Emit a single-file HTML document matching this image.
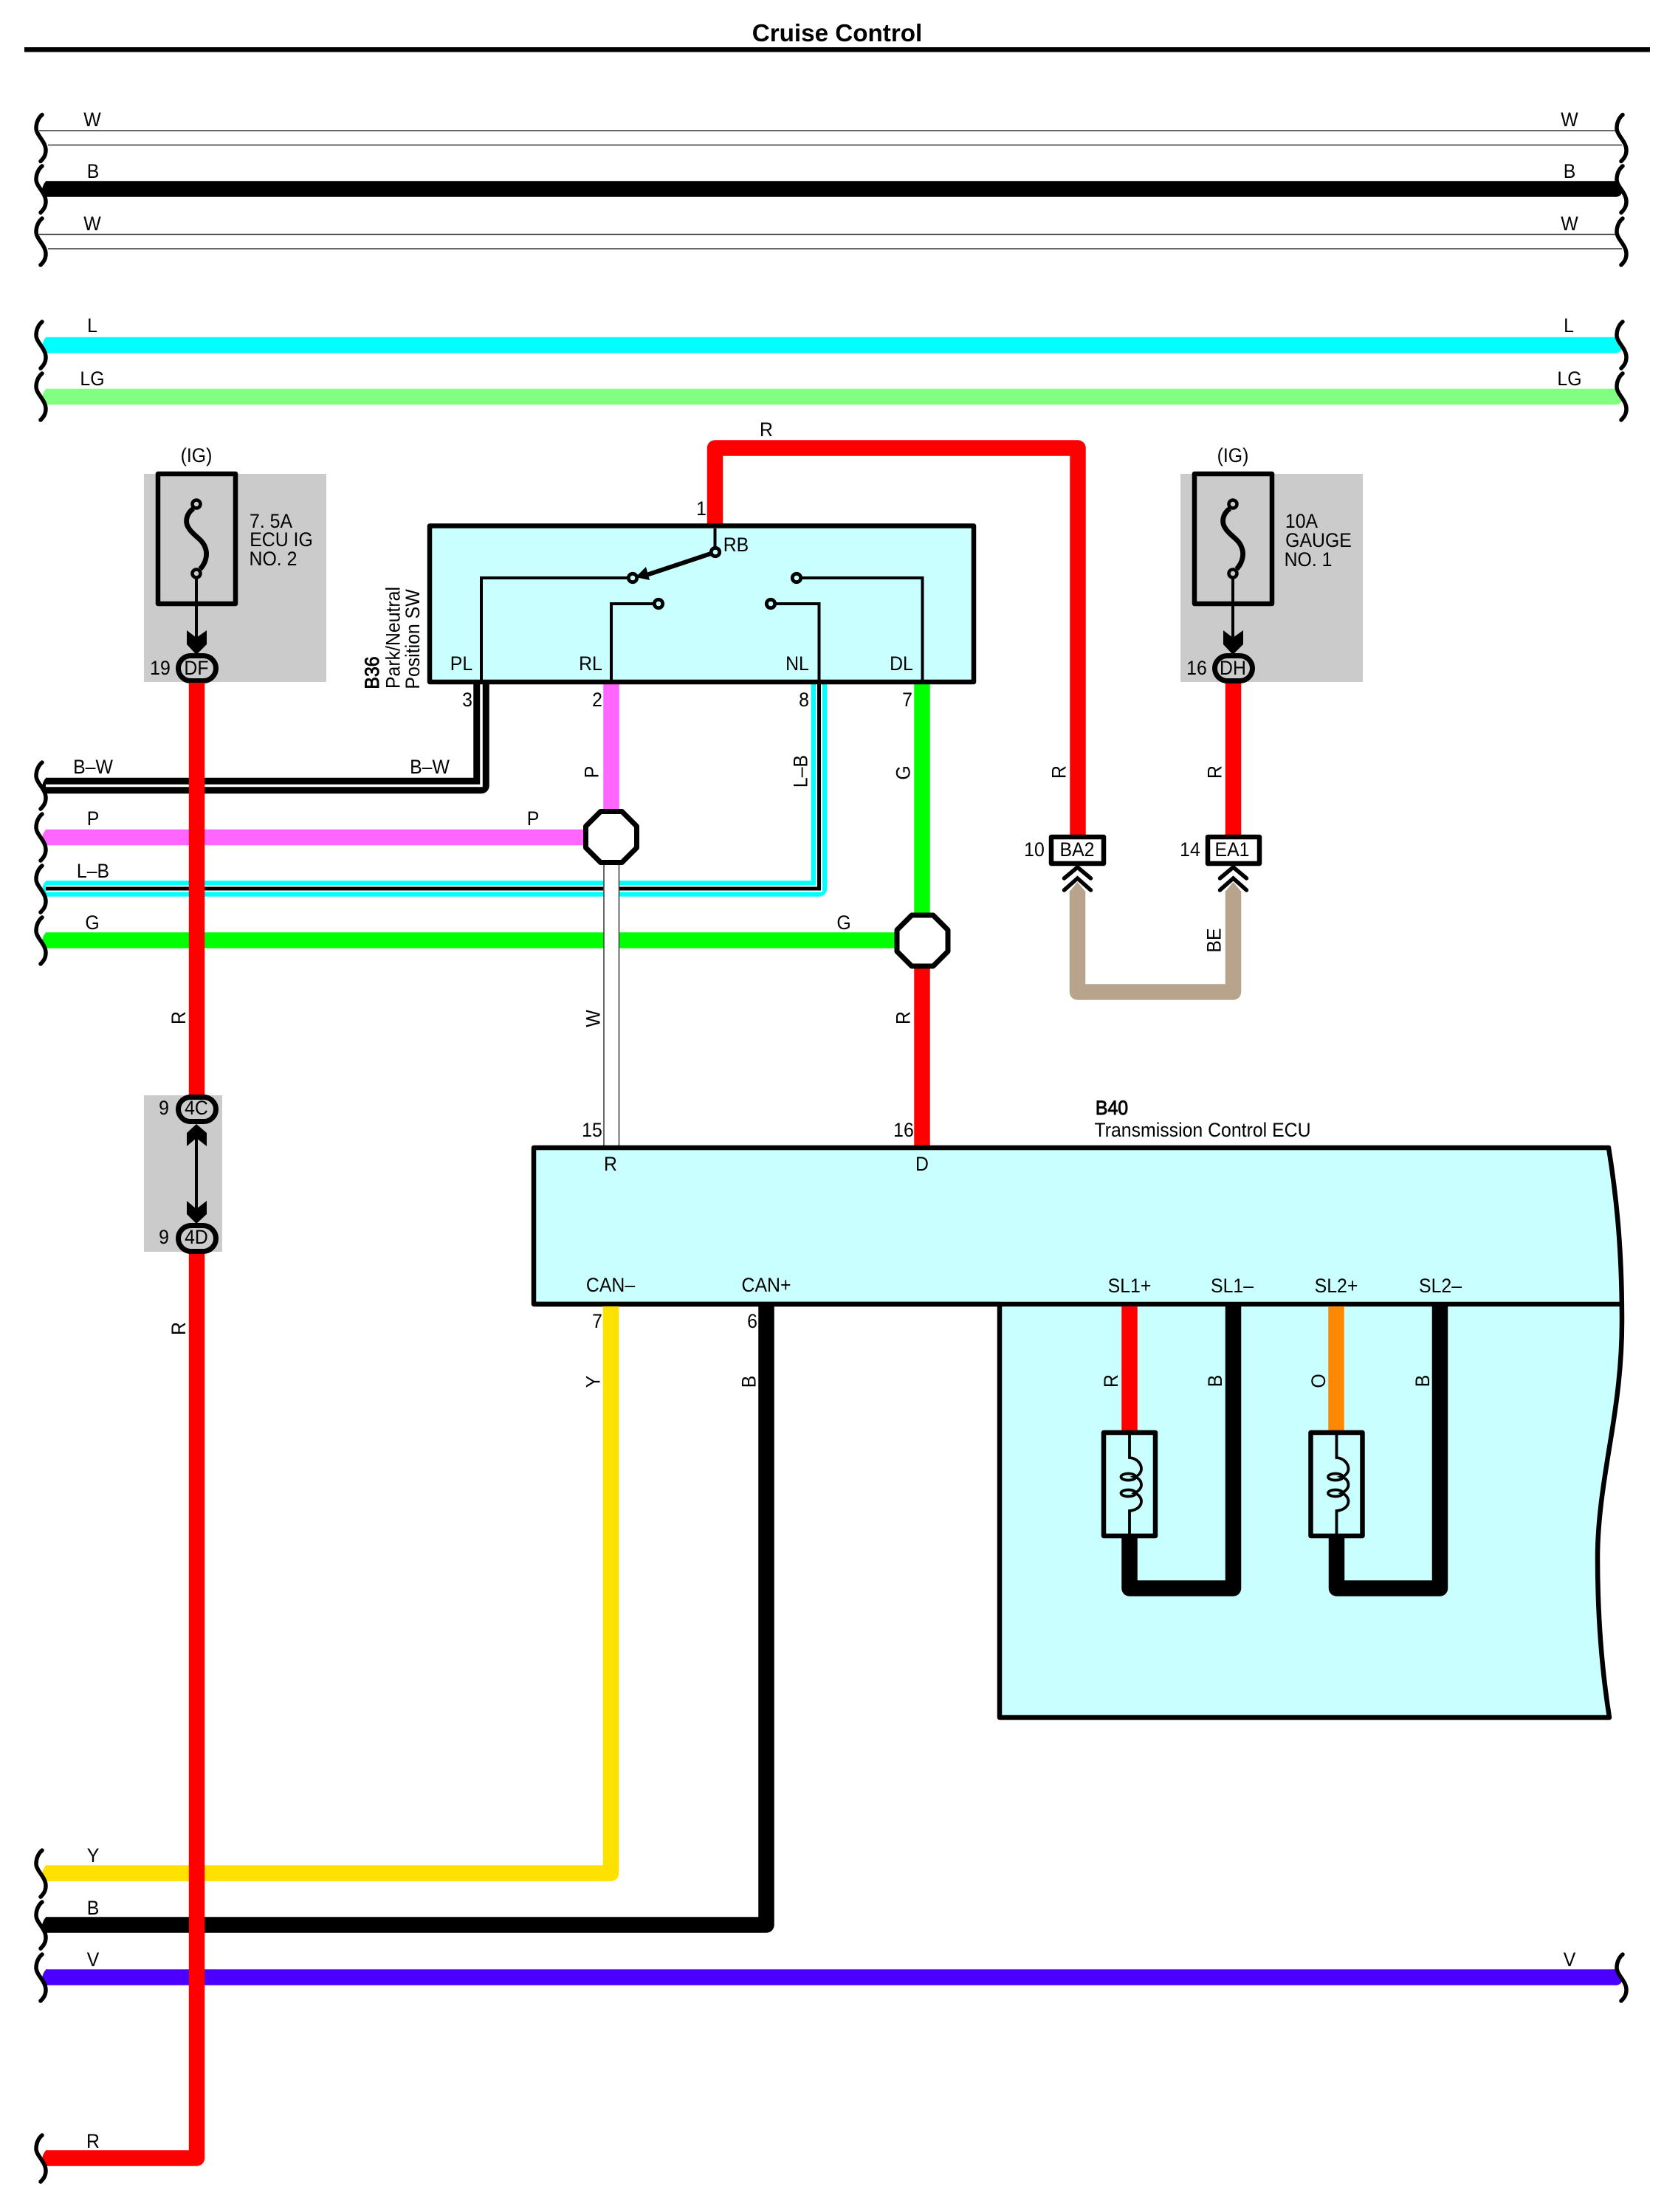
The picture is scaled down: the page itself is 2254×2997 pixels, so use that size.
<!DOCTYPE html>
<html>
<head>
<meta charset="utf-8">
<title>Cruise Control</title>
<style>
html,body{margin:0;padding:0;background:#fff}
svg{display:block}
text{font-family:"Liberation Sans",Arial,sans-serif;font-size:27px;fill:#000;text-anchor:middle}
.t{transform-box:fill-box;transform-origin:center;transform:scaleX(.92)}
.b{stroke:#000;stroke-width:.9}
.w{fill:none;stroke-width:21.5;stroke-linejoin:round}
.k{fill:none;stroke:#000;stroke-width:4;stroke-linejoin:miter}
.c{fill:#c9ffff;stroke:#000;stroke-width:4.8}
</style>
</head>
<body>
<svg xmlns="http://www.w3.org/2000/svg" width="2254" height="2997" viewBox="0 0 2254 2997">
<defs>
<path id="sq" d="M57,-31 C52,-27 49,-20 49,-13 C49,-3 62,5 62,17 C62,24 59,28 55,32" fill="none" stroke="#000" stroke-width="5.5" stroke-linecap="round"/>
<path id="tl" d="M64,-10.75 Q60,-10.75 57,0 Q60,10.75 64,10.75 Z"/>
<path id="tr" d="M2186,-10.75 Q2195,-10.75 2197,4 Q2196,10.75 2188,10.75 Z"/>
<g id="fuse">
<rect x="195" y="642" width="247" height="282" fill="#cbcbcb"/>
<rect x="214" y="642" width="105" height="176" fill="none" stroke="#000" stroke-width="6.5" stroke-linejoin="round"/>
<path d="M262,689 C252,696 250,708 256,716 C262,726 274,730 278,742 C282,752 278,764 271,771" fill="none" stroke="#000" stroke-width="6.8"/>
<circle cx="266" cy="683" r="5.5" fill="#cbcbcb" stroke="#000" stroke-width="4.5"/>
<circle cx="266" cy="777" r="5.5" fill="#cbcbcb" stroke="#000" stroke-width="4.5"/>
<path d="M266,783 V875" stroke="#000" stroke-width="4" fill="none"/>
<path d="M253,854 L266,864 L280,854 L280,873 L266,887 L253,873 Z" fill="#000"/>
<rect x="241.500" y="888.500" width="51" height="34" rx="17" fill="#cbcbcb" stroke="#000" stroke-width="7"/>
</g>
<g id="coil">
<rect x="1495" y="1941" width="70" height="140" fill="none" stroke="#000" stroke-width="6.5" stroke-linejoin="round"/>
<path d="M1530,1941 V1975 C1542,1976 1546,1985 1546,1990 C1546,1996 1541,2000 1537,2001 C1543,2003 1546,2007 1546,2012 C1546,2017 1541,2021 1537,2023 C1543,2025 1546,2030 1546,2034 C1546,2040 1541,2046 1530,2047 V2081" fill="none" stroke="#000" stroke-width="3.8"/>
<ellipse cx="1528.5" cy="2001" rx="10" ry="4.5" fill="none" stroke="#000" stroke-width="3.8"/>
<ellipse cx="1528.5" cy="2023" rx="10" ry="4.5" fill="none" stroke="#000" stroke-width="3.8"/>
</g>
<g id="chev">
<path d="M-18,16 L0,1 L18,16 M-18,32 L0,16 L18,32" fill="none" stroke="#000" stroke-width="5.5" stroke-linecap="round"/>
</g>
</defs>

<!-- title -->
<text x="1134" y="56" style="font-size:33.2px;font-weight:bold">Cruise Control</text>
<rect x="33" y="64" width="2202" height="6.5" fill="#000"/>

<!-- top bus wires -->
<path d="M53,177 H2188 M65,196.500 H2197" stroke="#333" stroke-width="1.6" fill="none"/>
<path d="M53,317.500 H2188 M65,337 H2197" stroke="#333" stroke-width="1.6" fill="none"/>
<path d="M62,256 H2190" class="w" stroke="#000"/>
<use href="#tl" y="256" fill="#000"/><use href="#tr" y="256" fill="#000"/>
<path d="M62,467.500 H2190" class="w" stroke="#00ffff"/>
<use href="#tl" y="467.500" fill="#00ffff"/><use href="#tr" y="467.500" fill="#00ffff"/>
<path d="M62,537.500 H2190" class="w" stroke="#80ff80"/>
<use href="#tl" y="537.500" fill="#80ff80"/><use href="#tr" y="537.500" fill="#80ff80"/>

<!-- mid left wires -->
<path d="M62,1064.500 H652 V925" class="w" stroke="#000"/>
<use href="#tl" y="1064.500" fill="#000"/>
<path d="M62,1064.500 H652 V925" fill="none" stroke="#fff" stroke-width="3.500"/>
<path d="M62,1134.500 H800" class="w" stroke="#ff66ff"/>
<use href="#tl" y="1134.500" fill="#ff66ff"/>
<path d="M828,925 V1100" class="w" stroke="#ff66ff"/>
<path d="M62,1204 H1109.500 V925" class="w" stroke="#00ffff"/>
<use href="#tl" y="1204" fill="#00ffff"/>
<path d="M62,1204 H1109.500 V925" fill="none" stroke="#fff" stroke-width="9"/>
<path d="M62,1204 H1109.500 V925" fill="none" stroke="#000" stroke-width="5"/>
<path d="M62,1274 H1220" class="w" stroke="#00ff00"/>
<use href="#tl" y="1274" fill="#00ff00"/>
<path d="M1249,925 V1240" class="w" stroke="#00ff00"/>

<!-- white vertical -->
<rect x="818" y="1168" width="20.500" height="386" fill="#fff" stroke="#444" stroke-width="1.6"/>

<!-- red from switch -->
<path d="M968.500,712 V607 H1460 V1134" class="w" stroke="#ff0000"/>
<path d="M1670.500,925 V1134" class="w" stroke="#ff0000"/>
<path d="M1249,1310 V1554" class="w" stroke="#ff0000"/>

<!-- tan -->
<path d="M1459.500,1207 V1344 H1670.500 V1207" class="w" stroke="#b8a48c"/>
<path d="M1448.750,1208 L1459.500,1195 L1470.250,1208 Z" fill="#b8a48c"/>
<path d="M1659.750,1208 L1670.500,1195 L1681.250,1208 Z" fill="#b8a48c"/>
<use href="#chev" x="1459.500" y="1174"/>
<use href="#chev" x="1670.500" y="1174"/>

<!-- octagons -->
<polygon points="813.500,1099.500 842.500,1099.500 862.500,1119.500 862.500,1148.500 842.500,1168.500 813.500,1168.500 793.500,1148.500 793.500,1119.500" fill="#fff" stroke="#000" stroke-width="7" stroke-linejoin="round"/>
<polygon points="1235,1240 1264,1240 1284,1260 1284,1289 1264,1309 1235,1309 1215,1289 1215,1260" fill="#fff" stroke="#000" stroke-width="7" stroke-linejoin="round"/>

<!-- connector boxes -->
<rect x="1424" y="1134" width="71" height="36" fill="#fff" stroke="#000" stroke-width="6.5" stroke-linejoin="round"/>
<rect x="1636" y="1134" width="70" height="36" fill="#fff" stroke="#000" stroke-width="6.5" stroke-linejoin="round"/>

<!-- switch box -->
<rect x="582" y="712.500" width="737" height="211.500" fill="#c9ffff" stroke="#000" stroke-width="6.500" stroke-linejoin="round"/>
<path d="M652,921 V783 H851" class="k"/>
<path d="M828,921 V818 H886" class="k"/>
<path d="M1050,818 H1109.500 V921" class="k"/>
<path d="M1085,783 H1249.500 V921" class="k"/>
<path d="M968.500,716 V742" class="k"/>
<path d="M969,748 L870,781" stroke="#000" stroke-width="6" fill="none"/>
<polygon points="861,782 875,768 880,786" fill="#000"/>
<circle cx="857" cy="783" r="5.7" class="c"/>
<circle cx="892" cy="818" r="5.7" class="c"/>
<circle cx="1044" cy="818" r="5.7" class="c"/>
<circle cx="1079" cy="783" r="5.7" class="c"/>
<circle cx="969" cy="748" r="5.7" class="c"/>

<!-- ECU -->
<path d="M723,1555 H2179 C2191,1630 2197,1700 2197,1790 C2197,1850 2190,1900 2181,1955 C2172,2010 2164,2060 2164,2110 C2164,2200 2171,2270 2180,2327 H1354 V1767 H723 Z" fill="#c9ffff" stroke="#000" stroke-width="6.500" stroke-linejoin="round"/>
<path d="M723,1767 H2196" stroke="#000" stroke-width="6.500" fill="none"/>

<!-- ECU lower wires -->
<path d="M827.500,1770 V2538 H62" class="w" stroke="#ffe100"/>
<use href="#tl" y="2538" fill="#ffe100"/>
<path d="M1038,1770 V2608 H62" class="w" stroke="#000"/>
<use href="#tl" y="2608" fill="#000"/>
<path d="M62,2679 H2190" class="w" stroke="#4b00ff"/>
<use href="#tl" y="2679" fill="#4b00ff"/><use href="#tr" y="2679" fill="#4b00ff"/>

<!-- solenoids -->
<path d="M1530,1770 V1938" class="w" stroke="#ff0000"/>
<path d="M1530,2084 V2152 H1670.500 V1770" class="w" stroke="#000"/>
<use href="#coil"/>
<path d="M1810,1770 V1938" class="w" stroke="#ff8800"/>
<path d="M1810.500,2084 V2152 H1950.500 V1770" class="w" stroke="#000"/>
<use href="#coil" x="280.500"/>

<!-- fuses -->
<use href="#fuse"/>
<use href="#fuse" x="1404"/>

<!-- 4C/4D -->
<rect x="195" y="1484" width="106" height="212" fill="#cbcbcb"/>

<!-- main red -->
<path d="M266.500,925 V1486" class="w" stroke="#ff0000"/>
<path d="M266.500,1696 V2924 H62" class="w" stroke="#ff0000"/>
<use href="#tl" y="2924" fill="#ff0000"/>
<path d="M266,1540 V1645" stroke="#000" stroke-width="4" fill="none"/>
<path d="M266,1523 L280,1535 L280,1553 L266,1542 L253,1553 L253,1535 Z" fill="#000"/>
<path d="M253,1627 L266,1638 L280,1627 L280,1645 L266,1658 L253,1645 Z" fill="#000"/>
<rect x="241.500" y="1486.500" width="51" height="33" rx="16.5" fill="#cbcbcb" stroke="#000" stroke-width="7"/>
<rect x="241.500" y="1660.500" width="51" height="35" rx="17.5" fill="#cbcbcb" stroke="#000" stroke-width="7"/>

<!-- squiggles left -->
<use href="#sq" y="186.500"/><use href="#sq" y="256"/><use href="#sq" y="327"/>
<use href="#sq" y="467"/><use href="#sq" y="537"/>
<use href="#sq" y="1064"/><use href="#sq" y="1134"/><use href="#sq" y="1204"/><use href="#sq" y="1274"/>
<use href="#sq" y="2538"/><use href="#sq" y="2608"/><use href="#sq" y="2679"/><use href="#sq" y="2924"/>
<!-- squiggles right -->
<use href="#sq" x="2141" y="186.500"/><use href="#sq" x="2141" y="256"/><use href="#sq" x="2141" y="327"/>
<use href="#sq" x="2141" y="467"/><use href="#sq" x="2141" y="537"/>
<use href="#sq" x="2141" y="2679"/>

<!-- bus labels -->
<text class="t" x="125" y="171">W</text>
<text class="t" x="126" y="241">B</text>
<text class="t" x="125" y="312">W</text>
<text class="t" x="125" y="450">L</text>
<text class="t" x="125" y="522">LG</text>
<text class="t" x="2126" y="171">W</text>
<text class="t" x="2126" y="241">B</text>
<text class="t" x="2126" y="312">W</text>
<text class="t" x="2125" y="450">L</text>
<text class="t" x="2126" y="522">LG</text>
<text class="t" x="126" y="2523">Y</text>
<text class="t" x="126" y="2594">B</text>
<text class="t" x="126" y="2664">V</text>
<text class="t" x="2126" y="2664">V</text>
<text class="t" x="126" y="2910">R</text>
<text class="t" x="126" y="1048">B–W</text>
<text class="t" x="582" y="1048">B–W</text>
<text class="t" x="126" y="1118">P</text>
<text class="t" x="722" y="1118">P</text>
<text class="t" x="126" y="1189">L–B</text>
<text class="t" x="125" y="1259">G</text>
<text class="t" x="1143" y="1259">G</text>
<text class="t" x="1038" y="591">R</text>

<!-- fuse labels -->
<text class="t" x="266" y="626">(IG)</text>
<text class="t" x="367" y="715">7. 5A</text>
<text class="t" x="381" y="740">ECU IG</text>
<text class="t" x="370" y="766">NO. 2</text>
<text class="t" x="266" y="914">DF</text>
<text class="t" x="217" y="914">19</text>
<text class="t" x="1670" y="626">(IG)</text>
<text class="t" x="1763" y="715">10A</text>
<text class="t" x="1786" y="741">GAUGE</text>
<text class="t" x="1772" y="767">NO. 1</text>
<text class="t" x="1670" y="914">DH</text>
<text class="t" x="1621" y="914">16</text>
<text class="t" x="266" y="1510">4C</text>
<text class="t" x="222" y="1510">9</text>
<text class="t" x="266" y="1685">4D</text>
<text class="t" x="222" y="1685">9</text>

<!-- switch labels -->
<text class="t" x="625" y="908">PL</text>
<text class="t" x="800" y="908">RL</text>
<text class="t" x="1080" y="908">NL</text>
<text class="t" x="1221" y="908">DL</text>
<text class="t" x="997" y="747">RB</text>
<text class="t" x="950" y="698">1</text>
<text class="t" x="633" y="957">3</text>
<text class="t" x="809" y="957">2</text>
<text class="t" x="1089" y="957">8</text>
<text class="t" x="1229" y="957">7</text>
<g transform="rotate(-90 513 911.500)"><text class="t b" x="513" y="911.500">B36</text></g>
<g transform="rotate(-90 541.500 864)"><text class="t" x="541.500" y="864">Park/Neutral</text></g>
<g transform="rotate(-90 568 866)"><text class="t" x="568" y="866">Position SW</text></g>

<!-- connectors -->
<text class="t" x="1459" y="1160">BA2</text>
<text class="t" x="1401" y="1160">10</text>
<text class="t" x="1669" y="1160">EA1</text>
<text class="t" x="1612" y="1160">14</text>

<!-- rotated wire labels -->
<g transform="rotate(-90 810.500 1046)"><text class="t" x="810.500" y="1046">P</text></g>
<g transform="rotate(-90 1093.500 1045)"><text class="t" x="1093.500" y="1045">L–B</text></g>
<g transform="rotate(-90 1232.500 1047)"><text class="t" x="1232.500" y="1047">G</text></g>
<g transform="rotate(-90 1443.500 1046)"><text class="t" x="1443.500" y="1046">R</text></g>
<g transform="rotate(-90 1654.500 1046)"><text class="t" x="1654.500" y="1046">R</text></g>
<g transform="rotate(-90 1653.500 1274)"><text class="t" x="1653.500" y="1274">BE</text></g>
<g transform="rotate(-90 251 1379)"><text class="t" x="251" y="1379">R</text></g>
<g transform="rotate(-90 251 1800)"><text class="t" x="251" y="1800">R</text></g>
<g transform="rotate(-90 812.500 1380)"><text class="t" x="812.500" y="1380">W</text></g>
<g transform="rotate(-90 1232.500 1379)"><text class="t" x="1232.500" y="1379">R</text></g>
<g transform="rotate(-90 812.500 1872)"><text class="t" x="812.500" y="1872">Y</text></g>
<g transform="rotate(-90 1023.500 1872)"><text class="t" x="1023.500" y="1872">B</text></g>
<g transform="rotate(-90 1514 1871)"><text class="t" x="1514" y="1871">R</text></g>
<g transform="rotate(-90 1655 1871)"><text class="t" x="1655" y="1871">B</text></g>
<g transform="rotate(-90 1795 1871)"><text class="t" x="1795" y="1871">O</text></g>
<g transform="rotate(-90 1936 1871)"><text class="t" x="1936" y="1871">B</text></g>

<!-- ECU labels -->
<text class="t b" x="1506" y="1510">B40</text>
<text class="t" x="1629" y="1540">Transmission Control ECU</text>
<text class="t" x="802" y="1540">15</text>
<text class="t" x="1224" y="1540">16</text>
<text class="t" x="827" y="1586">R</text>
<text class="t" x="1249" y="1586">D</text>
<text class="t" x="827" y="1750">CAN–</text>
<text class="t" x="1038" y="1750">CAN+</text>
<text class="t" x="809" y="1799">7</text>
<text class="t" x="1019" y="1799">6</text>
<text class="t" x="1530" y="1751">SL1+</text>
<text class="t" x="1669" y="1751">SL1–</text>
<text class="t" x="1810" y="1751">SL2+</text>
<text class="t" x="1951" y="1751">SL2–</text>
</svg>
</body>
</html>
